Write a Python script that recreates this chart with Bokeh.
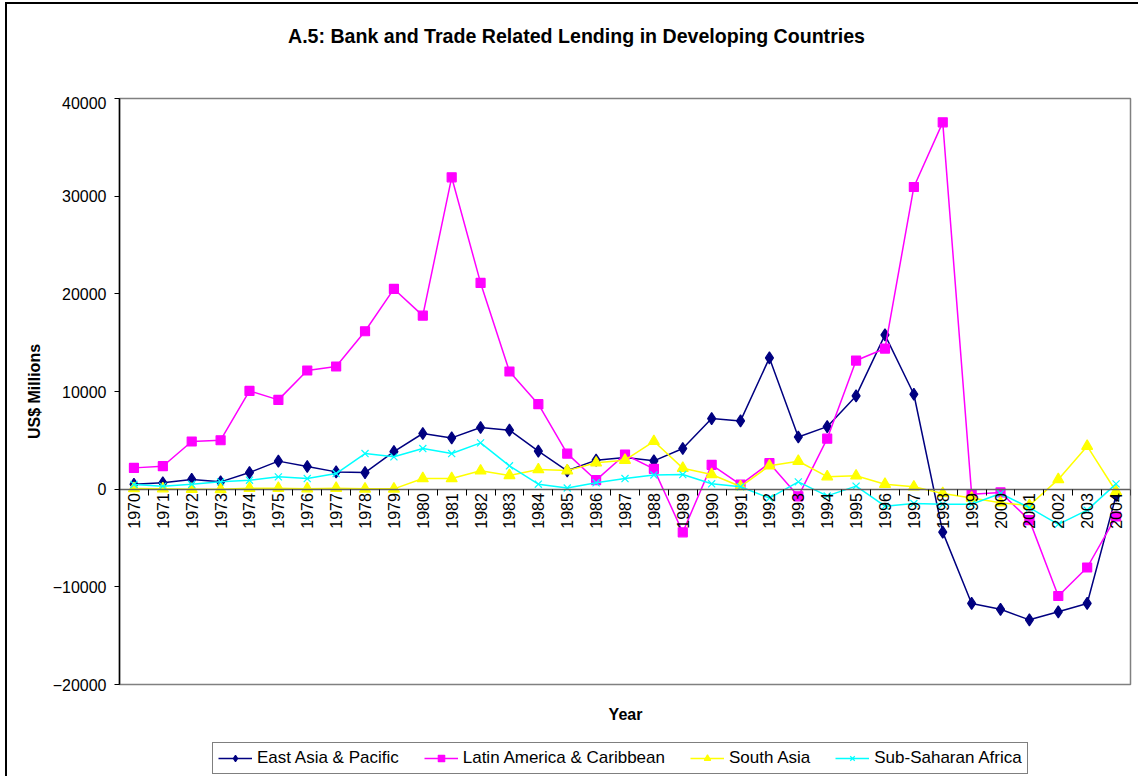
import math
from bokeh.plotting import figure
from bokeh.layouts import column
from bokeh.models import (Range1d, LinearAxis, FixedTicker, Legend, LegendItem,
                          Label, BasicTickFormatter)
from bokeh.embed import file_html
from bokeh.resources import INLINE

years = list(range(1970, 2005))

east_asia = [500, 650, 1000, 750, 1700, 2870, 2320, 1770, 1700, 3850,
             5700, 5250, 6310, 6040, 3890, 1880, 2970, 3240, 2900, 4160,
             7230, 6990, 13440, 5340, 6400, 9550, 15800, 9720, -4400, -11700,
             -12300, -13380, -12560, -11700, -650]
latin_america = [2180, 2350, 4880, 5010, 10060, 9140, 12150, 12560, 16170, 20500,
                 17770, 31930, 21120, 12050, 8700, 3640, 920, 3550, 2080, -4420,
                 2490, 460, 2660, -730, 5170, 13170, 14400, 30940, 37560, -510,
                 -330, -3170, -10940, -8020, -2800]
south_asia = [70, 50, 0, -20, 100, 100, 50, 100, 30, 30,
              1090, 1090, 1880, 1400, 2010, 1900, 2700, 2970, 4900, 2150,
              1500, 270, 2390, 2860, 1280, 1370, 510, 240, -440, -900,
              -1400, -1670, 1000, 4400, -240]
sub_saharan = [480, 310, 500, 750, 920, 1260, 1090, 1600, 3650, 3310,
               4160, 3650, 4740, 2390, 510, 120, 650, 1090, 1450, 1500,
               550, 240, -920, 750, -690, 310, -1740, -1470, -1540, -1550,
               -440, -1900, -3600, -2150, 540]

y_ticks = [-20000, -10000, 0, 10000, 20000, 30000, 40000]

series_names = ["East Asia & Pacific", "Latin America & Caribbean",
                "South Asia", "Sub-Saharan Africa"]
chart_title = "A.5: Bank and Trade Related Lending in Developing Countries"
x_title = "Year"
y_title = "US$ Millions"

FONT = "Liberation Sans"
W = 1131
LEFT, RIGHT = 112, 8


def strip(height):
    s = figure(width=W, height=height, output_backend="svg",
               toolbar_location=None, title=None,
               x_axis_type=None, y_axis_type=None,
               x_range=Range1d(LEFT, W - RIGHT), y_range=Range1d(height, 0),
               min_border_left=LEFT, min_border_right=RIGHT,
               min_border_top=0, min_border_bottom=0)
    s.outline_line_color = None
    s.grid.visible = False
    s.background_fill_color = "white"
    s.border_fill_color = "white"
    return s


# ---- top strip: chart title
p0 = strip(92)
p0.add_layout(Label(x=569, y=31, text=chart_title, text_align="center",
                    text_baseline="middle", text_font=FONT,
                    text_font_size="19.6px", text_font_style="bold",
                    text_color="black"))

# ---- main plot
p = figure(width=W, height=610, output_backend="svg", toolbar_location=None,
           title=None, x_axis_type=None, y_axis_type=None,
           x_range=Range1d(years[0] - 0.5, years[-1] + 0.5),
           y_range=Range1d(y_ticks[0], y_ticks[-1]),
           min_border_left=LEFT, min_border_right=RIGHT, min_border_top=2,
           min_border_bottom=22)
p.background_fill_color = "white"
p.border_fill_color = "white"
p.outline_line_color = "#808080"
p.outline_line_width = 1.5

yax = LinearAxis(ticker=FixedTicker(ticks=y_ticks),
                 formatter=BasicTickFormatter(use_scientific=False))
yax.axis_label = y_title
yax.axis_label_text_font = FONT
yax.axis_label_text_font_size = "16px"
yax.axis_label_text_font_style = "bold"
yax.axis_label_text_color = "black"
yax.axis_label_standoff = 7
yax.major_label_text_font = FONT
yax.major_label_text_font_size = "16px"
yax.major_label_text_color = "black"
yax.major_label_standoff = 8
yax.major_tick_out = 5
yax.major_tick_in = 0
yax.minor_tick_out = 0
yax.minor_tick_in = 0
yax.axis_line_color = "black"
yax.axis_line_width = 1.5
yax.major_tick_line_color = "black"
p.add_layout(yax, "left")

p.ygrid.ticker = FixedTicker(ticks=y_ticks)
p.ygrid.grid_line_color = "#202020"
p.ygrid.grid_line_width = 1
p.xgrid.grid_line_color = None

# category axis at y = 0 : labels at year centres
xlab = LinearAxis(ticker=FixedTicker(ticks=years),
                  formatter=BasicTickFormatter(use_scientific=False))
xlab.fixed_location = 0
xlab.major_label_orientation = math.pi / 2
xlab.major_label_text_font = FONT
xlab.major_label_text_font_size = "16px"
xlab.major_label_text_color = "black"
xlab.major_label_standoff = 4
xlab.major_tick_out = 0
xlab.major_tick_in = 0
xlab.minor_tick_out = 0
xlab.minor_tick_in = 0
xlab.axis_line_color = "#606060"
xlab.axis_line_width = 1.5
p.add_layout(xlab, "below")

# tick marks between categories
boundaries = [yr - 0.5 for yr in years] + [years[-1] + 0.5]
xtk = LinearAxis(ticker=FixedTicker(ticks=boundaries))
xtk.fixed_location = 0
xtk.major_label_text_alpha = 0
xtk.major_label_text_font_size = "1px"
xtk.major_tick_out = 6
xtk.major_tick_in = 0
xtk.minor_tick_out = 0
xtk.minor_tick_in = 0
xtk.major_tick_line_color = "black"
xtk.axis_line_color = None
p.add_layout(xtk, "below")

styles = [("#000080", "diamond", 12), ("#FF00FF", "square", 9),
          ("#FFFF00", "triangle", 11), ("#00FFFF", "x", 10)]
values = [east_asia, latin_america, south_asia, sub_saharan]

for vals, (color, marker, size) in zip(values, styles):
    p.line(years, vals, line_color=color, line_width=1.5)
    p.scatter(years, vals, marker=marker, size=size, fill_color=color,
              line_color=color, line_width=1.2)

# ---- bottom strip: x-axis title and legend
p2 = strip(70)
p2.add_layout(Label(x=618, y=8, text=x_title, text_align="center",
                    text_baseline="middle", text_font=FONT,
                    text_font_size="16px", text_font_style="bold",
                    text_color="black"))

items = []
for name, vals, (color, marker, size) in zip(series_names, values, styles):
    # same series, drawn outside this strip's visible range: only the
    # legend samples of these renderers show
    ln = p2.line(years, vals, line_color=color, line_width=1.5)
    sc = p2.scatter(years, vals, marker=marker, size=size, fill_color=color,
                    line_color=color, line_width=1.2)
    items.append(LegendItem(label=name, renderers=[ln, sc]))

legend = Legend(items=items, orientation="horizontal", location=(93, 2))
legend.label_text_font = FONT
legend.label_text_font_size = "17px"
legend.label_text_color = "black"
legend.glyph_width = 34
legend.glyph_height = 16
legend.label_standoff = 5
legend.spacing = 25
legend.padding = 5
legend.margin = 0
legend.border_line_color = "black"
legend.border_line_width = 1
legend.background_fill_color = "white"
p2.add_layout(legend, "center")

layout = column(p0, p, p2, spacing=0)
layout.styles = {"margin-left": "5px", "margin-top": "2px",
                 "border-left": "2px solid #000000",
                 "border-top": "2px solid #000000"}
open("out.html", "w").write(file_html(layout, INLINE))
